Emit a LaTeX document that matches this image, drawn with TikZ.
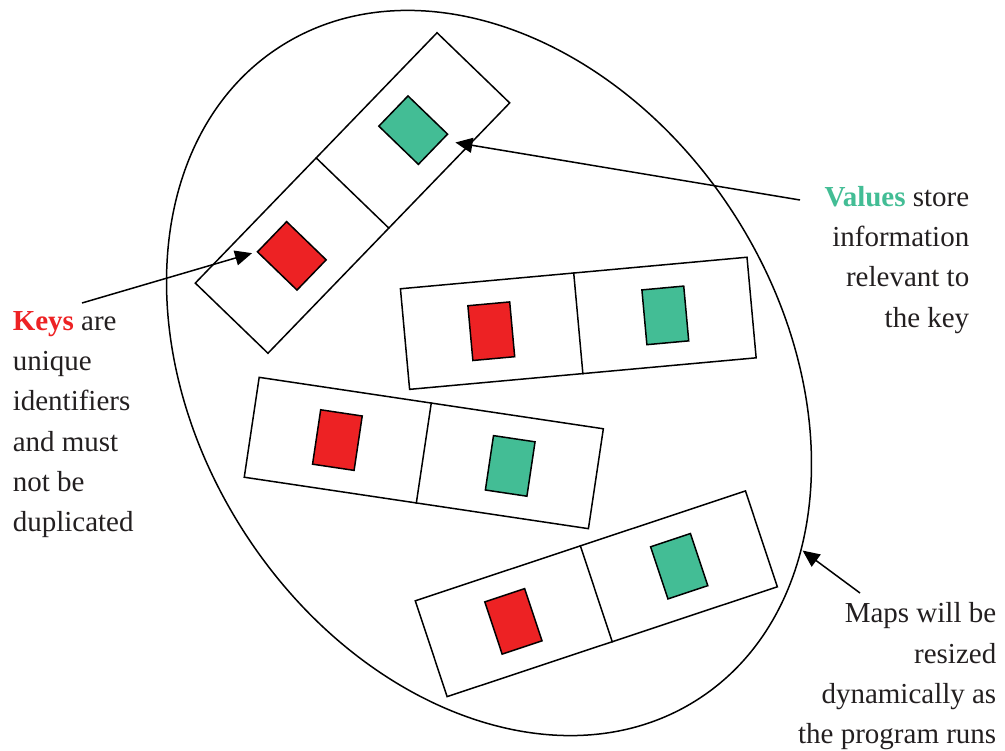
\documentclass[tikz,border=0pt]{standalone}
\usepackage{fontspec}
\setmainfont{Liberation Serif}
\usetikzlibrary{shapes.geometric, calc, arrows.meta}
\definecolor{key-red}{HTML}{ED2224}
\definecolor{value-green}{HTML}{43BD95}
\definecolor{text-dark}{HTML}{231F20}

\begin{document}
\begin{tikzpicture}[x=1pt, y=-1pt, line width=1.5pt,
      every node/.style={font=\fontsize{29}{40.3}\selectfont, text=text-dark},
      pairbox/.style={draw, minimum width=348pt, minimum height=101pt, inner sep=0pt},
      keybox/.style={draw, fill=key-red, minimum width=42pt, minimum height=55pt, inner sep=0pt},
      valbox/.style={draw, fill=value-green, minimum width=42pt, minimum height=55pt, inner sep=0pt},
      pointer/.style={-{Triangle[length=17pt, width=15pt]}, line width=1.5pt}]
    \useasboundingbox (0,0) rectangle (1005,751);
    % the map
    \node[draw, ellipse, minimum width=775pt, minimum height=584pt,
          inner sep=0pt, rotate=-57.5] (map) at (489,373) {};
    % key-value pairs
    \foreach \i/\x/\y/\a in {1/352.5/193/46, 2/578.3/323.3/5.2,
                             3/423.8/453/-8.5, 4/596.3/593.8/18.4} {
      \node[pairbox, rotate=\a] (m\i) at (\x,\y) {};
      \draw (m\i.north) -- (m\i.south);
      \node[keybox, rotate=\a] (k\i) at ($(m\i.center)!0.5!(m\i.west)$) {};
      \node[valbox, rotate=\a] (v\i) at ($(m\i.center)!0.5!(m\i.east)$) {};
    }
    % notes
    \node[anchor=north west, align=left, inner sep=0pt] (keys) at (12,310.5)
          {\textcolor{key-red}{\textbf{Keys}} are\\unique\\identifiers\\and must\\not be\\duplicated};
    \node[anchor=north east, align=right, inner sep=0pt] (values) at (970,185.5)
          {\textcolor{value-green}{\textbf{Values}} store\\information\\relevant to\\the key};
    \node[anchor=north east, align=right, inner sep=0pt] (resize) at (997,602)
          {Maps will be\\resized\\dynamically as\\the program runs};
    % pointers
    \coordinate (keys tail) at (82,303);
    \coordinate (values tail) at (800,200);
    \coordinate (resize tail) at (860,593);
    \draw[pointer, shorten >=4.5pt] (keys tail) -- (k1.north west);
    \draw[pointer, shorten >=13pt] (values tail) -- ($(v1.south east)!0.2!(v1.south west)$);
    \draw[pointer, shorten >=1pt] (resize tail) -- (map.28);
  \end{tikzpicture}
\end{document}
